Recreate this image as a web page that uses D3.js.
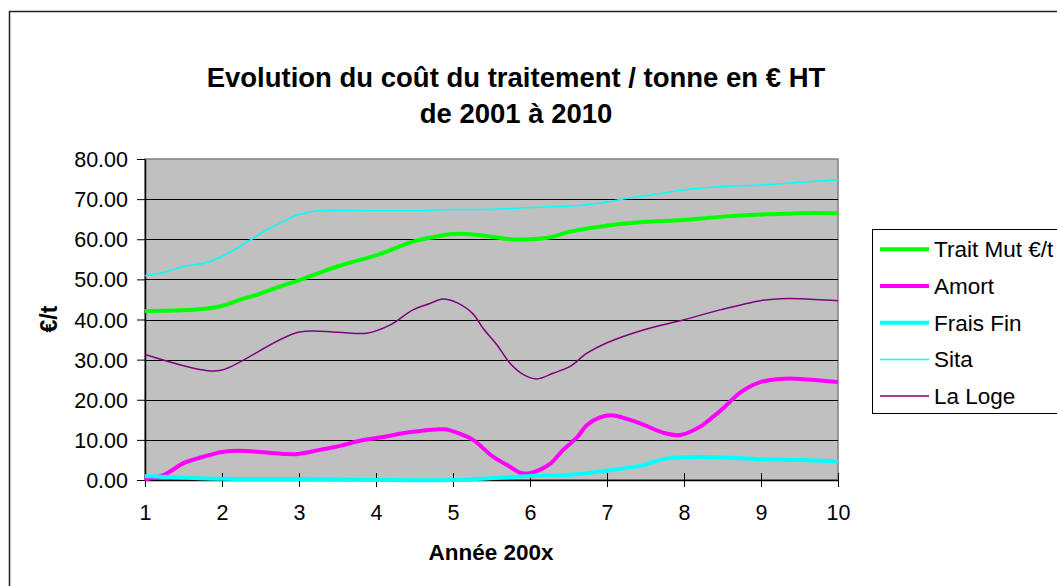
<!DOCTYPE html>
<html>
<head>
<meta charset="utf-8">
<script src="https://cdn.jsdelivr.net/npm/d3@7"></script>
<style>
  html, body { margin: 0; padding: 0; background: #fff; }
  svg { display: block; }
  text { font-family: "Liberation Sans", Arial, sans-serif; fill: #000; }
</style>
</head>
<body>
<svg id="chart" width="1057" height="586"></svg>
<script>
// ---- Data (x = année 200x, y = €/t) ----
const titleLines = ["Evolution du coût du traitement / tonne en € HT", "de 2001 à 2010"];
const xTicks = [1, 2, 3, 4, 5, 6, 7, 8, 9, 10];
const yTicks = [0, 10, 20, 30, 40, 50, 60, 70, 80];
const seriesNames = ["Trait Mut €/t", "Amort", "Frais Fin", "Sita", "La Loge"];

const traitMut = [[1,42.1],[1.76,42.6],[2.0,43.4],[2.23,44.9],[2.49,46.4],[2.75,48.2],[2.99,49.7],[3.23,51.4],[3.53,53.4],[4.05,56.3],[4.48,59.4],[4.74,60.5],[5.0,61.3],[5.26,61.2],[5.48,60.7],[5.74,60.0],[6.0,60.0],[6.26,60.5],[6.52,61.9],[7.04,63.5],[7.47,64.3],[7.99,64.8],[8.55,65.7],[9.07,66.2],[9.51,66.5],[10,66.5]];
const amort = [[1,0.2],[1.24,1.2],[1.5,4.2],[1.76,5.8],[2.0,7.0],[2.23,7.3],[2.54,6.9],[2.8,6.5],[2.99,6.5],[3.27,7.5],[3.53,8.5],[3.79,9.8],[4.05,10.6],[4.48,12.0],[4.79,12.6],[4.92,12.6],[5.05,11.8],[5.26,10.0],[5.52,5.8],[5.74,3.3],[5.87,1.8],[6.0,1.7],[6.26,4.0],[6.43,7.5],[6.61,10.6],[6.74,13.7],[6.91,15.6],[7.08,16.1],[7.43,14.1],[7.73,11.8],[7.95,11.2],[8.21,13.3],[8.38,15.8],[8.51,17.9],[8.73,21.8],[8.99,24.4],[9.25,25.2],[9.51,25.2],[10,24.4]];
const fraisFin = [[1,1.0],[2,0.3],[3,0.25],[4,0],[5,0],[5.44,0.4],[6,1.0],[6.52,1.3],[6.91,2.1],[7.47,3.7],[7.73,5.2],[7.99,5.7],[8.47,5.7],[8.99,5.2],[9.51,5.0],[10,4.7]];
const sita = [[1,50.9],[1.24,51.7],[1.5,53.2],[1.76,54.0],[2.0,55.7],[2.23,58.2],[2.41,60.3],[2.58,62.3],[2.8,64.4],[2.99,66.1],[3.25,67.1],[4.05,67.1],[4.44,67.1],[5.0,67.4],[5.48,67.5],[6.0,67.9],[6.52,68.3],[6.91,69.0],[7.26,70.2],[7.73,71.5],[7.99,72.3],[8.47,73.1],[8.99,73.5],[9.51,74.2],[10,74.8]];
const laLoge = [[1,31.3],[1.76,27.4],[2.0,27.4],[2.99,36.8],[3.5,36.8],[3.88,36.6],[4.18,38.6],[4.48,42.4],[4.7,44.0],[4.87,45.1],[5.05,44.2],[5.26,41.4],[5.39,37.8],[5.57,33.7],[5.74,29.1],[5.92,26.2],[6.09,25.2],[6.3,26.6],[6.52,28.3],[6.74,31.6],[7.0,34.2],[7.47,37.4],[7.99,39.9],[8.47,42.4],[8.99,44.7],[9.25,45.2],[9.51,45.2],[10,44.7]];

const seriesData = [traitMut, amort, fraisFin, sita, laLoge];
const seriesColors = ["#00ff00", "#ff00ff", "#00ffff", "#00ffff", "#800080"];
const seriesWidths = [4, 4, 4, 1.5, 1.5];

// ---- Layout ----
const svg = d3.select("#chart");
const plot = { left: 145, right: 838, top: 159, bottom: 480 };

const x = d3.scaleLinear().domain([1, 10]).range([plot.left, plot.right]);
const y = d3.scaleLinear().domain([0, 80]).range([plot.bottom, plot.top]);

// outer chart border
svg.append("rect")
  .attr("x", 9.5).attr("y", 11.5)
  .attr("width", 1100).attr("height", 600)
  .attr("fill", "#fff").attr("stroke", "#222").attr("stroke-width", 1.5);

// title
const title = svg.append("text")
  .attr("text-anchor", "middle")
  .style("font-weight", "bold")
  .style("font-size", "27.5px");
title.append("tspan").attr("x", 516).attr("y", 87).text(titleLines[0]);
title.append("tspan").attr("x", 516).attr("y", 123).text(titleLines[1]);

// plot background
svg.append("rect")
  .attr("x", plot.left).attr("y", plot.top)
  .attr("width", plot.right - plot.left).attr("height", plot.bottom - plot.top)
  .attr("fill", "#c0c0c0").attr("stroke", "#808080").attr("stroke-width", 1.5);

// gridlines
svg.append("g")
  .selectAll("line")
  .data(yTicks.filter(d => d > 0 && d < 80))
  .join("line")
  .attr("x1", plot.left).attr("x2", plot.right)
  .attr("y1", d => Math.round(y(d)) + 0.5).attr("y2", d => Math.round(y(d)) + 0.5)
  .attr("stroke", "#000").attr("stroke-width", 1);

// y axis
const yAxis = svg.append("g")
  .attr("transform", `translate(${plot.left},0)`)
  .call(d3.axisLeft(y).tickValues(yTicks).tickFormat(d3.format(".2f")).tickSize(8).tickSizeOuter(0).tickPadding(9));
yAxis.selectAll("text").style("font-size", "21.5px").attr("dy", "0.35em");
yAxis.select(".domain").attr("stroke", "#000").attr("stroke-width", 1.5);
yAxis.selectAll(".tick line").attr("stroke", "#000");

// x axis
const xAxis = svg.append("g")
  .attr("transform", `translate(0,${plot.bottom})`)
  .call(d3.axisBottom(x).tickValues(xTicks).tickFormat(d3.format("d")).tickSize(7).tickSizeOuter(0));
xAxis.selectAll(".tick line").attr("y1", -7).attr("y2", 7).attr("stroke", "#000");
xAxis.selectAll("text").style("font-size", "21.5px").attr("y", 40).attr("dy", 0);
xAxis.select(".domain").attr("stroke", "#000").attr("stroke-width", 1.5);

// axis titles
svg.append("text")
  .attr("x", 491).attr("y", 560)
  .attr("text-anchor", "middle")
  .style("font-weight", "bold").style("font-size", "22.5px")
  .text("Année 200x");
svg.append("text")
  .attr("transform", "translate(57,319) rotate(-90)")
  .attr("text-anchor", "middle")
  .style("font-weight", "bold").style("font-size", "23px")
  .text("€/t");

// series lines
const line = d3.line()
  .x(d => x(d[0]))
  .y(d => y(d[1]))
  .curve(d3.curveCatmullRom.alpha(0.5));

svg.append("g")
  .selectAll("path")
  .data(seriesData)
  .join("path")
  .attr("d", d => line(d))
  .attr("fill", "none")
  .attr("stroke", (d, i) => seriesColors[i])
  .attr("stroke-width", (d, i) => seriesWidths[i])
  .attr("stroke-linejoin", "round")
  .attr("stroke-linecap", "butt");

// legend
const legend = svg.append("g");
legend.append("rect")
  .attr("x", 872.5).attr("y", 229.5)
  .attr("width", 300).attr("height", 184)
  .attr("fill", "#fff").attr("stroke", "#000").attr("stroke-width", 1);
const items = legend.selectAll("g.item")
  .data(seriesNames)
  .join("g")
  .attr("class", "item")
  .attr("transform", (d, i) => `translate(0,${249.3 + i * 36.7})`);
items.append("line")
  .attr("x1", 880).attr("x2", 929)
  .attr("y1", 0).attr("y2", 0)
  .attr("stroke", (d, i) => seriesColors[i])
  .attr("stroke-width", (d, i) => seriesWidths[i]);
items.append("text")
  .attr("x", 934).attr("y", 8)
  .style("font-size", "22.5px")
  .text(d => d);
</script>
</body>
</html>
